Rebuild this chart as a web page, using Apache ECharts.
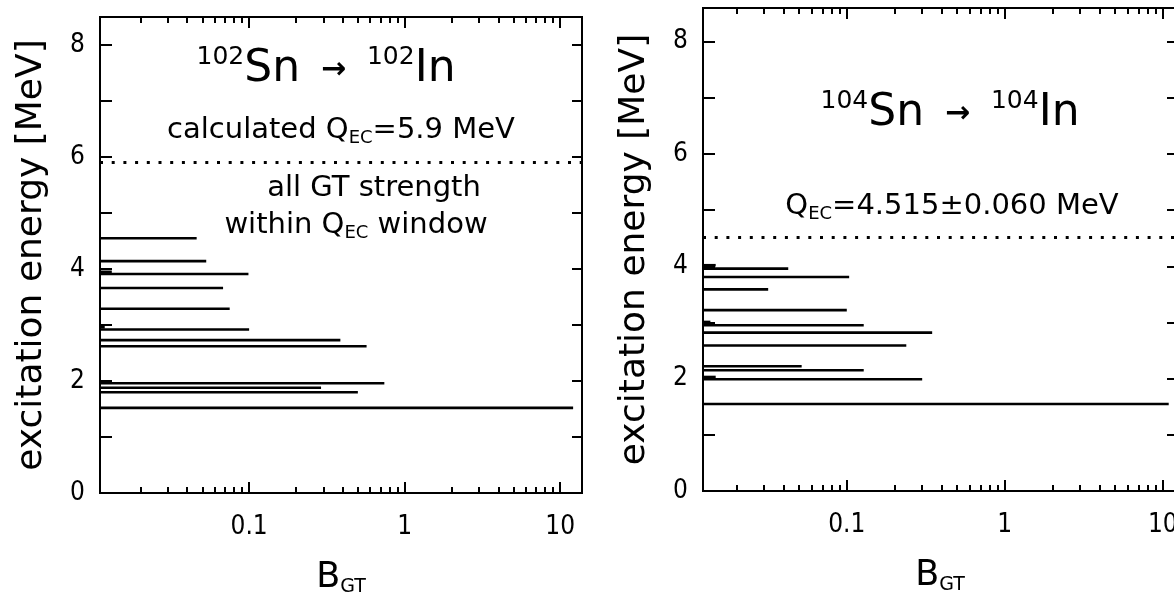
<!DOCTYPE html>
<html><head><meta charset="utf-8">
<script src="https://cdn.jsdelivr.net/npm/echarts@6/dist/echarts.min.js"></script>
<style>html,body{margin:0;padding:0;background:#fff}#c{width:1174px;height:597px}</style>
</head><body><div id="c"></div>
<script>
// ---- data ----
const leftEnergy = [4.55, 4.14, 3.95, 3.91, 3.66, 3.29, 2.96, 2.92, 2.73, 2.62, 1.97, 1.96, 1.88, 1.80, 1.52];
const leftBGT    = [0.046, 0.053, 0.0131, 0.099, 0.068, 0.075, 0.0118, 0.100, 0.386, 0.569, 0.0131, 0.74, 0.29, 0.50, 12.1];
const rightEnergy = [4.02, 3.96, 3.81, 3.59, 3.22, 3.01, 2.95, 2.82, 2.59, 2.22, 2.15, 2.03, 1.99, 1.55];
const rightBGT    = [0.0148, 0.0426, 0.1035, 0.0318, 0.100, 0.0137, 0.128, 0.347, 0.238, 0.0518, 0.128, 0.0148, 0.30, 10.9];
const leftQ = 5.9;
const rightQ = 4.515;
const majorTicks = [0.1, 1, 10];
const majorTickLabels = ['0.1', '1', '10'];
const minorTicks = [0.02, 0.03, 0.04, 0.05, 0.06, 0.07, 0.08, 0.09,
                    0.2, 0.3, 0.4, 0.5, 0.6, 0.7, 0.8, 0.9,
                    2, 3, 4, 5, 6, 7, 8, 9];
const yLabelValues = [0, 2, 4, 6, 8];

// ---- styling ----
const NUMF = "'Liberation Sans Narrow', 'DejaVu Sans Condensed', 'Liberation Sans', sans-serif";
const TXTF = "'DejaVu Sans', sans-serif";
const panels = [
  {grid: {left: 100, top: 17, width: 482, height: 476}, xMin: 0.011, xMax: 13.8, yMax: 8.5},
  {grid: {left: 703, top: 8, width: 474, height: 483}, xMin: 0.0123, xMax: 12.3, yMax: 8.6}
];

function fmtMajor(v) {
  let best = 0, d = Infinity;
  majorTicks.forEach((t, i) => { const dd = Math.abs(Math.log10(v) - Math.log10(t)); if (dd < d) { d = dd; best = i; } });
  return majorTickLabels[best];
}

const grids = [], xAxes = [], yAxes = [], series = [];
panels.forEach((p, gi) => {
  grids.push(Object.assign({show: true, borderColor: '#000', borderWidth: 2, backgroundColor: 'transparent',
                            containLabel: false, outerBoundsMode: 'none'}, p.grid));
  const base = {gridIndex: gi, type: 'log', logBase: 10, min: p.xMin, max: p.xMax,
                axisLine: {show: false}, splitLine: {show: false}, minorTick: {show: false}};
  const xi0 = xAxes.length;
  xAxes.push(Object.assign({}, base, {
    position: 'bottom',
    axisTick: {show: true, inside: true, length: 11, lineStyle: {color: '#000', width: 2}, customValues: majorTicks},
    axisLabel: {show: true, customValues: majorTicks, formatter: fmtMajor, color: '#000', fontSize: 26, fontFamily: NUMF, margin: 21},
    name: '{b|B}{s|GT}', nameLocation: 'middle', nameGap: 66,
    nameTextStyle: {color: '#000', rich: {b: {fontSize: 35, fontFamily: TXTF, color: '#000', lineHeight: 38}, s: {fontSize: 19, fontFamily: TXTF, color: '#000', verticalAlign: 'bottom', lineHeight: 22}}}
  }));
  xAxes.push(Object.assign({}, base, {position: 'bottom',
    axisTick: {show: true, inside: true, length: 6, lineStyle: {color: '#000', width: 2}, customValues: minorTicks},
    axisLabel: {show: false}}));
  xAxes.push(Object.assign({}, base, {position: 'top',
    axisTick: {show: true, inside: true, length: 11, lineStyle: {color: '#000', width: 2}, customValues: majorTicks},
    axisLabel: {show: false}}));
  xAxes.push(Object.assign({}, base, {position: 'top',
    axisTick: {show: true, inside: true, length: 6, lineStyle: {color: '#000', width: 2}, customValues: minorTicks},
    axisLabel: {show: false}}));
  const yi0 = yAxes.length;
  yAxes.push({gridIndex: gi, type: 'value', min: 0, max: p.yMax, interval: 1, position: 'left',
    axisLine: {show: false}, splitLine: {show: false},
    axisTick: {show: true, inside: true, length: 12, lineStyle: {color: '#000', width: 2}},
    axisLabel: {show: true, formatter: v => yLabelValues.indexOf(v) >= 0 ? String(v) : '', color: '#000', fontSize: 26, fontFamily: NUMF, margin: 15},
    name: 'excitation energy [MeV]', nameLocation: 'middle', nameGap: 50,
    nameTextStyle: {color: '#000', fontSize: 36, fontFamily: TXTF}});
  yAxes.push({gridIndex: gi, type: 'value', min: 0, max: p.yMax, interval: 1, position: 'right',
    axisLine: {show: false}, splitLine: {show: false},
    axisTick: {show: true, inside: true, length: 10, lineStyle: {color: '#000', width: 2}},
    axisLabel: {show: false}});

  const E = gi === 0 ? leftEnergy : rightEnergy;
  const B = gi === 0 ? leftBGT : rightBGT;
  const Q = gi === 0 ? leftQ : rightQ;
  series.push({
    type: 'custom', xAxisIndex: xi0, yAxisIndex: yi0, silent: true,
    data: B.map((b, i) => [b, E[i]]),
    encode: {x: 0, y: 1},
    renderItem: (params, api) => {
      const v = api.value(0), e = api.value(1);
      const p0 = api.coord([p.xMin, e]);
      const p1 = api.coord([v, e]);
      return {type: 'line', shape: {x1: p0[0], y1: p0[1], x2: p1[0], y2: p1[1]},
              style: {stroke: '#000', lineWidth: 2.6}};
    }
  });
  series.push({
    type: 'line', xAxisIndex: xi0, yAxisIndex: yi0, silent: true, symbol: 'none',
    data: [[p.xMin, Q], [p.xMax, Q]],
    lineStyle: {color: '#000', width: 3, type: [3, 8.7]}
  });
});

const rich = {
  sup: {fontSize: 25, fontFamily: TXTF, color: '#000', verticalAlign: 'top', lineHeight: 26},
  big: {fontSize: 44, fontFamily: TXTF, color: '#000', lineHeight: 50},
  arr: {fontSize: 30, fontFamily: TXTF, fontWeight: 'bold', color: '#000', lineHeight: 50},
  t: {fontSize: 29, fontFamily: TXTF, color: '#000', lineHeight: 34},
  sub: {fontSize: 18, fontFamily: TXTF, color: '#000', verticalAlign: 'bottom', lineHeight: 22}
};
function txt(x, y, text) {
  return {type: 'text', x: x, y: y, silent: true,
          style: {text: text, rich: rich, align: 'center', verticalAlign: 'middle', fill: '#000'}};
}

const option = {
  animation: false,
  backgroundColor: '#fff',
  grid: grids, xAxis: xAxes, yAxis: yAxes, series: series,
  graphic: [
    txt(326, 70, '{sup|102}{big|Sn}{arr|  →  }{sup|102}{big|In}'),
    txt(341, 130, '{t|calculated Q}{sub|EC}{t|=5.9 MeV}'),
    txt(374, 188, '{t|all GT strength}'),
    txt(356, 225, '{t|within Q}{sub|EC}{t| window}'),
    txt(950, 114, '{sup|104}{big|Sn}{arr|  →  }{sup|104}{big|In}'),
    txt(952, 206, '{t|Q}{sub|EC}{t|=4.515±0.060 MeV}')
  ]
};
const chart = echarts.init(document.getElementById('c'), null, {renderer: 'canvas'});
chart.setOption(option);
</script>
</body></html>
